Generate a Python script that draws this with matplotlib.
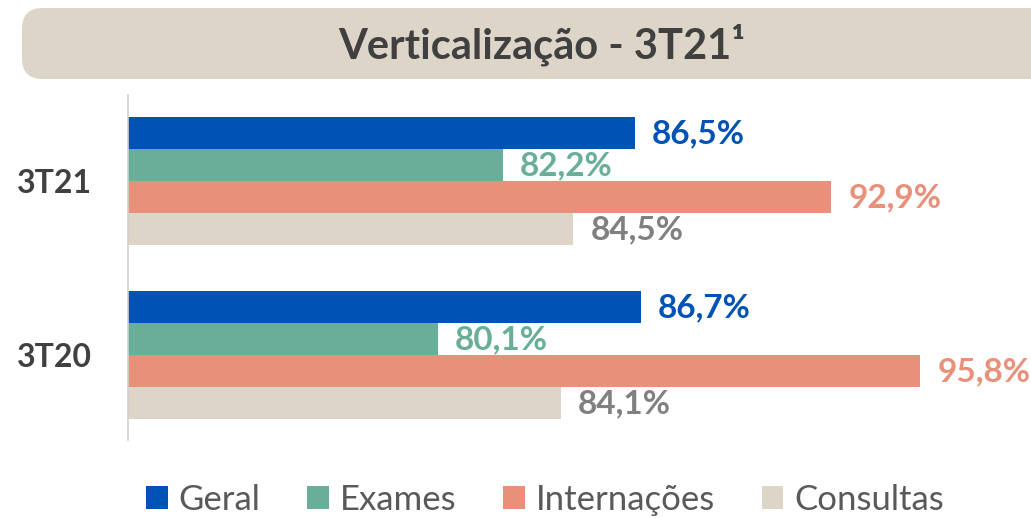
import matplotlib
matplotlib.use("Agg")
import matplotlib.pyplot as plt
from matplotlib.patches import FancyBboxPatch, Patch
import numpy as np

# dados
periodos = ["3T21", "3T20"]
series = ["Geral", "Exames", "Internações", "Consultas"]
valores = {
    "Geral": [86.5, 86.7],
    "Exames": [82.2, 80.1],
    "Internações": [92.9, 95.8],
    "Consultas": [84.5, 84.1],
}
cores = ["#0053b5", "#69ae98", "#e8907a", "#ddd5c8"]
cores_rotulo = ["#0053b5", "#69ae98", "#e8907a", "#808080"]

plt.rcParams["font.family"] = ["Lato", "DejaVu Sans"]

fig = plt.figure(figsize=(10.31, 5.18), dpi=100)
W, H = 1031, 518

# caixa do titulo
caixa = FancyBboxPatch((22 / W, 1 - 79 / H), 1.05, 71 / H,
                       boxstyle="round,pad=0,rounding_size=0.02",
                       transform=fig.transFigure, facecolor="#ddd5c8",
                       edgecolor="none", mutation_aspect=W / H)
fig.patches.append(caixa)
fig.text(542 / W, 1 - 45 / H, "Verticalização - 3T21¹", ha="center", va="center",
         fontsize=30, fontweight="bold", color="#404040")

# eixo: 128px -> 1031px, topo 95px, base 440px
ax = fig.add_axes([128 / W, 1 - 440 / H, (W - 128) / W, 345 / H])
ax.set_xlim(70, 99.4)

h = 32 / 174.0
y0 = np.arange(len(periodos)) * 1.0
for i, s in enumerate(series):
    ys = y0 + (i - 1.5) * h
    ax.barh(ys, valores[s], left=0, height=h, color=cores[i], zorder=2)
    for y, v in zip(ys, valores[s]):
        ax.text(v + 0.55, y, f"{v:.1f}%".replace(".", ","), va="center", ha="left",
                fontsize=24, fontweight="bold", color=cores_rotulo[i],
                zorder=5, clip_on=False)

ax.set_ylim(1.486, -0.497)
ax.set_yticks(y0)
ax.set_yticklabels(periodos, fontsize=23, fontweight="bold", color="#404040")
ax.tick_params(axis="y", length=0, pad=26)
ax.set_xticks([])
for lado in ["top", "right", "bottom"]:
    ax.spines[lado].set_visible(False)
ax.spines["left"].set_color("#d0d0d0")
ax.spines["left"].set_linewidth(1.2)

handles = [Patch(facecolor=c, edgecolor="none") for c in cores]
fig.legend(handles, series, loc="center", bbox_to_anchor=(545 / W, 1 - 500 / H),
           ncol=4, frameon=False, fontsize=25, labelcolor="#595959",
           handlelength=0.63, handleheight=0.63, handletextpad=0.3,
           columnspacing=1.35, borderpad=0, borderaxespad=0)

fig.savefig("out.png", dpi=100)
